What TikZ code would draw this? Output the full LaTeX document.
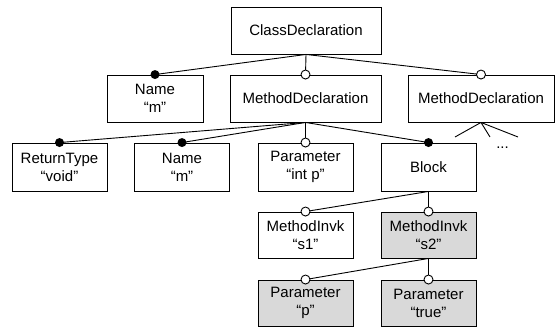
\documentclass[tikz,border=0pt]{standalone}
\usepackage{fontspec}
\setmainfont{Liberation Sans}
\usepackage{tikz}
\begin{document}
\begin{tikzpicture}[x=1pt,y=-1pt,line width=0.9pt,
box/.style={draw,minimum width=95pt,minimum height=47pt,inner sep=0pt,align=center,font=\fontsize{15}{18}\selectfont},
hbox/.style={box,fill=gray!30},
dot/.style={circle,fill,inner sep=0pt,minimum size=9pt},
odot/.style={circle,draw,fill=white,inner sep=0pt,minimum size=9pt}]
\useasboundingbox (0,0) rectangle (555,328);
\node[box,minimum width=150pt] (cd) at (306,30.5) {ClassDeclaration};
\node[box,minimum width=96pt] (nm1) at (155,98.5) {Name\\“m”};
\node[box,minimum width=151pt] (md1) at (305.5,98.5) {MethodDeclaration};
\node[box,minimum width=146pt] (md2) at (481,98.5) {MethodDeclaration};
\node[box,minimum height=48pt] (rt) at (59.5,167) {ReturnType\\“void”};
\node[box,minimum height=48pt] (nm2) at (182,167) {Name\\“m”};
\node[box,minimum height=48pt] (par) at (305.5,167) {Parameter\\“int p”};
\node[box,minimum height=48pt] (blk) at (428.5,167) {Block};
\node[box,minimum height=46pt] (mi1) at (305.5,235) {MethodInvk\\“s1”};
\node[hbox,minimum height=46pt] (mi2) at (428.5,235) {MethodInvk\\“s2”};
\node[hbox,minimum height=46pt] (p1) at (305.5,303) {Parameter\\“p”};
\node[hbox,minimum height=46pt] (p2) at (428.5,303) {Parameter\\“true”};
\draw (cd.south) -- (nm1.north) node[dot]{};
\draw (cd.south) -- (md1.north) node[odot]{};
\draw (cd.south) -- (md2.north) node[odot]{};
\draw (md1.south) -- (rt.north) node[dot]{};
\draw (md1.south) -- (nm2.north) node[dot]{};
\draw (md1.south) -- (par.north) node[odot]{};
\draw (md1.south) -- (blk.north) node[dot]{};
\draw (blk.south) -- (mi1.north) node[odot]{};
\draw (blk.south) -- (mi2.north) node[odot]{};
\draw (mi2.south) -- (p1.north) node[odot]{};
\draw (mi2.south) -- (p2.north) node[odot]{};
% more children
\coordinate (f1) at (455,137);
\coordinate (f2) at (490,137);
\coordinate (f3) at (518,137);
\draw (md2.south) -- (f1) (md2.south) -- (f2) (md2.south) -- (f3);
\node[anchor=base,font=\fontsize{15}{18}\selectfont] (more) at (502.5,149) {...};
\end{tikzpicture}
\end{document}
